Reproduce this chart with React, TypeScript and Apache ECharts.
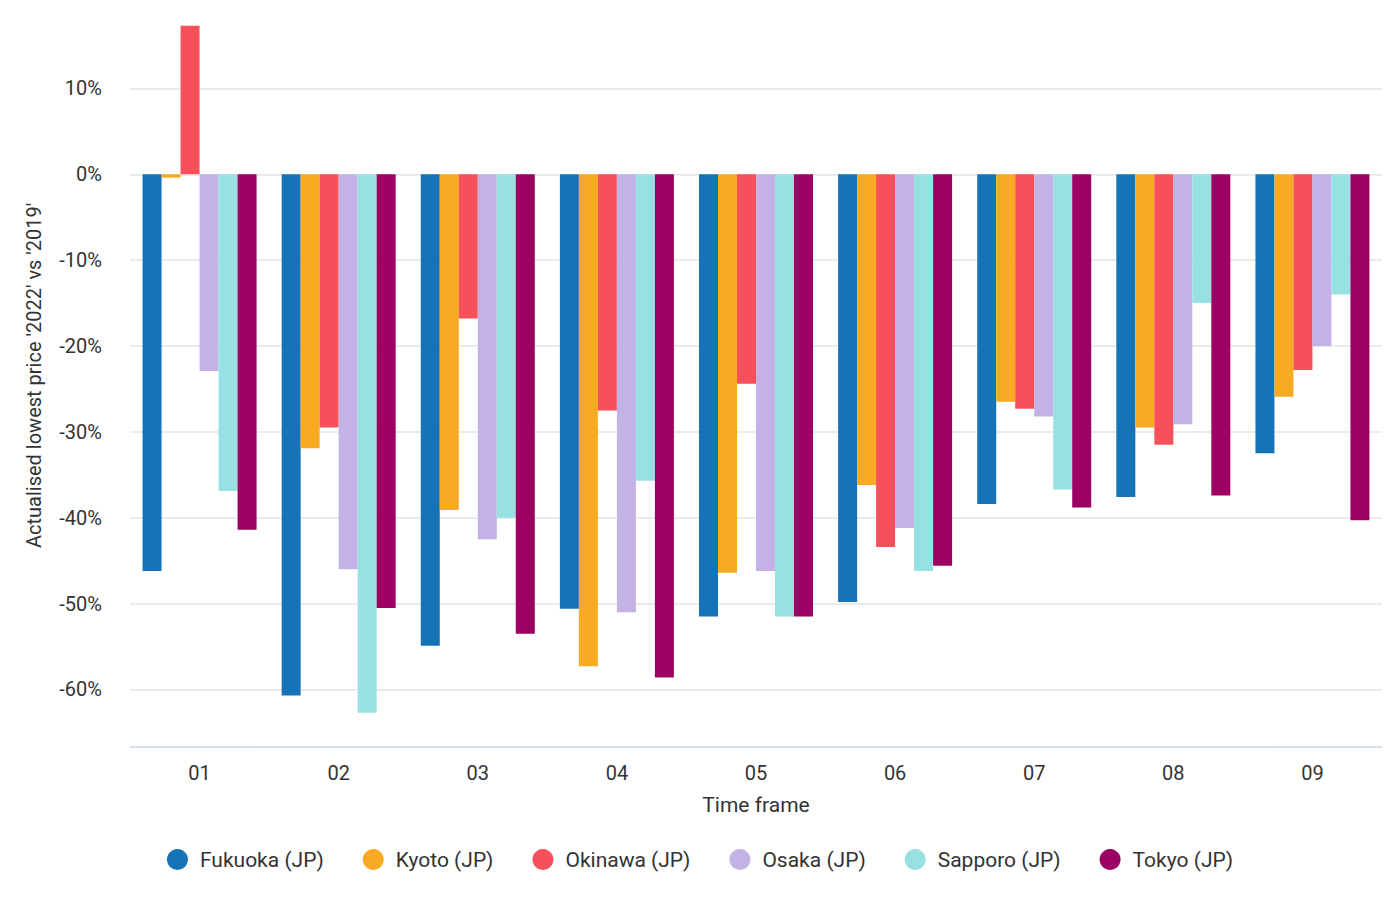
import React, { useEffect, useRef } from "react";
import * as echarts from "echarts";

const categories = ["01", "02", "03", "04", "05", "06", "07", "08", "09"];
const seriesNames = ["Fukuoka (JP)", "Kyoto (JP)", "Okinawa (JP)", "Osaka (JP)", "Sapporo (JP)", "Tokyo (JP)"];
const fukuoka = [-46.2, -60.7, -54.9, -50.6, -51.5, -49.8, -38.4, -37.6, -32.5];
const kyoto = [-0.4, -31.9, -39.1, -57.3, -46.4, -36.2, -26.5, -29.5, -25.9];
const okinawa = [17.3, -29.5, -16.8, -27.5, -24.4, -43.4, -27.3, -31.5, -22.8];
const osaka = [-22.9, -46.0, -42.5, -51.0, -46.2, -41.2, -28.2, -29.1, -20.0];
const sapporo = [-36.9, -62.7, -40.0, -35.7, -51.5, -46.2, -36.7, -15.0, -14.0];
const tokyo = [-41.4, -50.5, -53.5, -58.6, -51.5, -45.6, -38.8, -37.4, -40.3];
const colors = ["#1673b7", "#f9aa23", "#f6505b", "#c3b2e6", "#97e1e3", "#9c0262"];
const yMin = -66.7;
const yMax = 17.3;

const FONT = "Roboto";
const TEXT = "#333333";

export default function App() {
  const ref = useRef<HTMLDivElement>(null);
  useEffect(() => {
    document.body.style.margin = "0";
    if (!ref.current) return;
    const chart = echarts.init(ref.current, undefined, { renderer: "svg" });
    const allData = [fukuoka, kyoto, okinawa, osaka, sapporo, tokyo];
    chart.setOption({
      animation: false,
      color: colors,
      textStyle: { fontFamily: FONT },
      grid: { left: 130, right: 18, top: 25.7, bottom: 162 },
      legend: {
        bottom: 34,
        left: "center",
        icon: "circle",
        itemWidth: 21,
        itemHeight: 21,
        itemGap: 39,
        textStyle: { fontSize: 21, color: TEXT, fontFamily: FONT, padding: [0, 0, 0, 7] },
        data: seriesNames,
      },
      xAxis: {
        type: "category",
        data: categories,
        name: "Time frame",
        nameLocation: "middle",
        nameGap: 47,
        nameTextStyle: { fontSize: 21, color: TEXT, fontFamily: FONT },
        axisLine: { show: true, onZero: false, lineStyle: { color: "#c9d5e4", width: 1.5 } },
        axisTick: { show: false },
        axisLabel: { fontSize: 20, color: TEXT, margin: 16, fontFamily: FONT },
      },
      yAxis: {
        type: "value",
        min: yMin,
        max: yMax,
        splitNumber: 8,
        name: "Actualised lowest price '2022' vs '2019'",
        nameLocation: "middle",
        nameGap: 86,
        nameTextStyle: { fontSize: 20, color: TEXT, fontFamily: FONT, padding: [0, 0, 0, 22] },
        axisLine: { show: false },
        axisTick: { show: false },
        axisLabel: {
          fontSize: 20,
          color: TEXT,
          margin: 28,
          fontFamily: FONT,
          showMinLabel: false,
          showMaxLabel: false,
          formatter: (v: number) => `${Math.round(v)}%`,
        },
        splitLine: { show: true, showMinLine: false, showMaxLine: false, lineStyle: { color: "#e5e5e5", width: 1.5 } },
      },
      series: seriesNames.map((name, i) => ({
        name,
        type: "bar",
        data: allData[i],
        barWidth: 19,
        barGap: "0%",
        itemStyle: { color: colors[i] },
      })),
    });
    return () => chart.dispose();
  }, []);
  return <div ref={ref} style={{ width: 1400, height: 909 }} />;
}
